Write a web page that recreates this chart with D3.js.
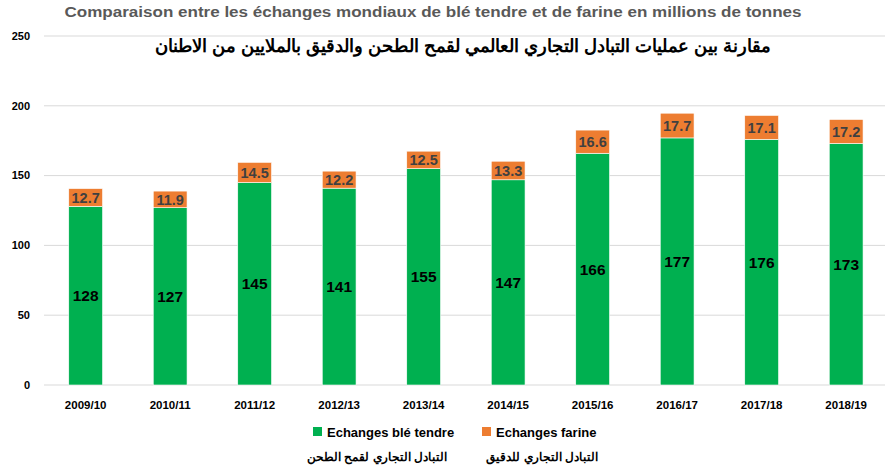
<html>
<head>
<meta charset="utf-8">
<script src="https://d3js.org/d3.v7.min.js"></script>
<style>
  body { margin: 0; background: #fff; }
  text { font-family: "Liberation Sans", Arial, sans-serif; }
</style>
</head>
<body>
<svg width="885" height="472"></svg>
<script>
var seasons = ["2009/10", "2010/11", "2011/12", "2012/13", "2013/14", "2014/15", "2015/16", "2016/17", "2017/18", "2018/19"];
var ble = [128, 127, 145, 141, 155, 147, 166, 177, 176, 173];
var farine = [12.7, 11.9, 14.5, 12.2, 12.5, 13.3, 16.6, 17.7, 17.1, 17.2];
var yTicks = [0, 50, 100, 150, 200, 250];

var colors = { ble: "#00B050", farine: "#ED7D31" };

var svg = d3.select("svg");

var x = d3.scaleBand().domain(seasons).range([43.4, 888.4]).paddingInner(0.6).paddingOuter(0.3);
var y = d3.scaleLinear().domain([0, 250]).range([385, 36]);

var data = seasons.map(function(s, i) { return { season: s, ble: ble[i], farine: farine[i] }; });
var stacks = d3.stack().keys(["ble", "farine"])(data);

// gridlines
svg.append("g")
  .selectAll("line")
  .data(yTicks)
  .join("line")
    .attr("x1", 44).attr("x2", 885)
    .attr("y1", d => y(d)).attr("y2", d => y(d))
    .attr("stroke", "#d9d9d9").attr("stroke-width", 1);

// y labels
svg.append("g")
  .selectAll("text")
  .data(yTicks)
  .join("text")
    .attr("x", 30).attr("y", d => y(d))
    .attr("dy", "0.35em")
    .attr("text-anchor", "end")
    .attr("font-size", "11px").attr("font-weight", "bold")
    .attr("fill", "#000")
    .text(d => d);

// bars
svg.append("g")
  .selectAll("g")
  .data(stacks)
  .join("g")
    .attr("fill", d => colors[d.key])
  .selectAll("rect")
  .data(d => d)
  .join("rect")
    .attr("x", d => x(d.data.season))
    .attr("y", d => y(d[1]))
    .attr("width", x.bandwidth())
    .attr("height", d => y(d[0]) - y(d[1]))
    .attr("stroke", "#fff").attr("stroke-width", 0.6);

// value labels
svg.append("g")
  .selectAll("text")
  .data(stacks[0])
  .join("text")
    .attr("x", d => x(d.data.season) + x.bandwidth() / 2)
    .attr("y", d => y((d[0] + d[1]) / 2))
    .attr("dy", "0.36em")
    .attr("text-anchor", "middle")
    .attr("font-size", "15.5px").attr("font-weight", "bold")
    .attr("fill", "#000")
    .text(d => d.data.ble);

svg.append("g")
  .selectAll("text")
  .data(stacks[1])
  .join("text")
    .attr("x", d => x(d.data.season) + x.bandwidth() / 2)
    .attr("y", d => y((d[0] + d[1]) / 2))
    .attr("dy", "0.36em")
    .attr("text-anchor", "middle")
    .attr("font-size", "14.5px").attr("font-weight", "bold")
    .attr("fill", "#404040")
    .text(d => d.data.farine.toFixed(1));

// x labels
svg.append("g")
  .selectAll("text")
  .data(seasons)
  .join("text")
    .attr("x", d => x(d) + x.bandwidth() / 2)
    .attr("y", 405)
    .attr("dy", "0.35em")
    .attr("text-anchor", "middle")
    .attr("font-size", "11.5px").attr("font-weight", "bold")
    .attr("fill", "#000")
    .text(d => d);

// titles
svg.append("text")
  .attr("x", 433).attr("y", 17)
  .attr("text-anchor", "middle")
  .attr("font-size", "14px").attr("font-weight", "bold")
  .attr("fill", "#595959")
  .attr("textLength", 737).attr("lengthAdjust", "spacingAndGlyphs")
  .text("Comparaison entre les échanges mondiaux de blé tendre et de farine en millions de tonnes");

svg.append("text")
  .attr("x", 463).attr("y", 52)
  .attr("text-anchor", "middle")
  .attr("font-size", "18px").attr("font-weight", "bold")
  .attr("fill", "#000")
  .attr("direction", "rtl")
  .text("مقارنة بين عمليات التبادل التجاري العالمي لقمح الطحن والدقيق بالملايين من الاطنان");

// legend
var legend = [
  { key: "ble", label: "Echanges blé tendre", ar: "التبادل التجاري لقمح الطحن", x: 313, arRight: 447 },
  { key: "farine", label: "Echanges farine", ar: "التبادل التجاري للدقيق", x: 482, arRight: 598 }
];
var lg = svg.append("g").selectAll("g").data(legend).join("g");
lg.append("rect")
  .attr("x", d => d.x).attr("y", 427)
  .attr("width", 9).attr("height", 9)
  .attr("fill", d => colors[d.key]);
lg.append("text")
  .attr("x", d => d.x + 14).attr("y", 436.5)
  .attr("font-size", "13px").attr("font-weight", "bold")
  .attr("fill", "#000")
  .text(d => d.label);
lg.append("text")
  .attr("x", d => d.arRight).attr("y", 461)
  .attr("text-anchor", "start")
  .attr("direction", "rtl")
  .attr("font-size", "11.8px").attr("font-weight", "bold")
  .attr("fill", "#000")
  .text(d => d.ar);
</script>
</body>
</html>
